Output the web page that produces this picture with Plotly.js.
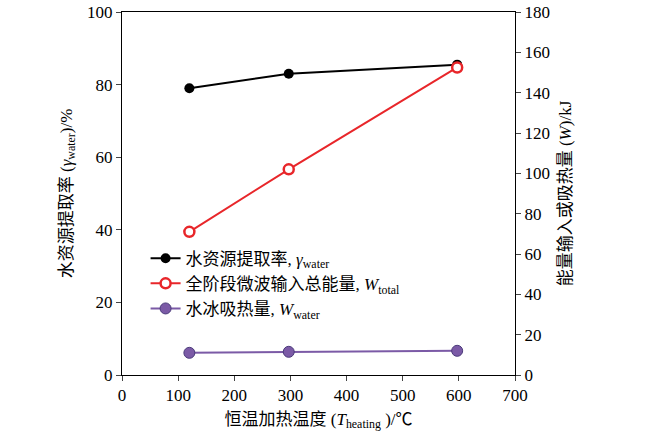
<!DOCTYPE html>
<html>
<head>
<meta charset="utf-8">
<script src="https://cdn.plot.ly/plotly-3.0.1.min.js"></script>
<style>body{margin:0;background:#fff}#chart{width:650px;height:447px}</style>
</head>
<body>
<div id="chart"></div>
<script>
// Chart data
const temps = [120, 297, 597];
const waterRate = [79, 83, 85.5];
const totalEnergy = [71, 102, 152.5];
const iceHeat = [11, 11.5, 12];

const font = {family: 'Liberation Serif, Noto Sans CJK SC, serif', size: 17, color: '#000'};

const data = [
    {
        x: temps, y: waterRate, mode: 'lines+markers',
        name: '水资源提取率, <i>γ</i><sub>water</sub>',
        line: {color: '#000', width: 2},
        marker: {color: '#000', size: 10}
    },
    {
        x: temps, y: totalEnergy, yaxis: 'y2', mode: 'lines+markers',
        name: '全阶段微波输入总能量, <i>W</i><sub>total</sub>',
        line: {color: '#e8262a', width: 2},
        marker: {color: '#fff', size: 10, symbol: 'circle', line: {color: '#e8262a', width: 2.5}}
    },
    {
        x: temps, y: iceHeat, yaxis: 'y2', mode: 'lines+markers',
        name: '水冰吸热量, <i>W</i><sub>water</sub>',
        line: {color: '#7b5aa6', width: 2},
        marker: {color: '#7b5aa6', size: 11, line: {color: '#4a3a7a', width: 1}}
    }
];

const layout = {
    width: 650, height: 447,
    margin: {l: 122, r: 135, t: 12, b: 72},
    paper_bgcolor: '#fff', plot_bgcolor: '#fff',
    font: font,
    showlegend: true,
    legend: {x: 0.06, y: 0.37, xanchor: 'left', yanchor: 'top', bgcolor: 'rgba(0,0,0,0)', font: font, tracegroupgap: 0},
    xaxis: {
        range: [0, 700], dtick: 100, ticks: 'outside', ticklen: 5,
        showline: true, linecolor: '#000', mirror: true, showgrid: false, zeroline: false,
        title: {text: '恒温加热温度 (<i>T</i><sub>heating</sub> )/℃', font: font, standoff: 8}
    },
    yaxis: {
        range: [0, 100], dtick: 20, ticks: 'outside', ticklen: 5,
        showline: true, linecolor: '#000', showgrid: false, zeroline: false,
        title: {text: '水资源提取率 (<i>γ</i><sub>water</sub>)/%', font: font, standoff: 10}
    },
    yaxis2: {
        range: [0, 180], dtick: 20, ticks: 'outside', ticklen: 5, overlaying: 'y', side: 'right',
        showline: true, linecolor: '#000', showgrid: false, zeroline: false,
        title: {text: '能量输入或吸热量 (<i>W</i>)/kJ', font: font, standoff: 10}
    }
};

Plotly.newPlot('chart', data, layout, {displayModeBar: false});
</script>
</body>
</html>
